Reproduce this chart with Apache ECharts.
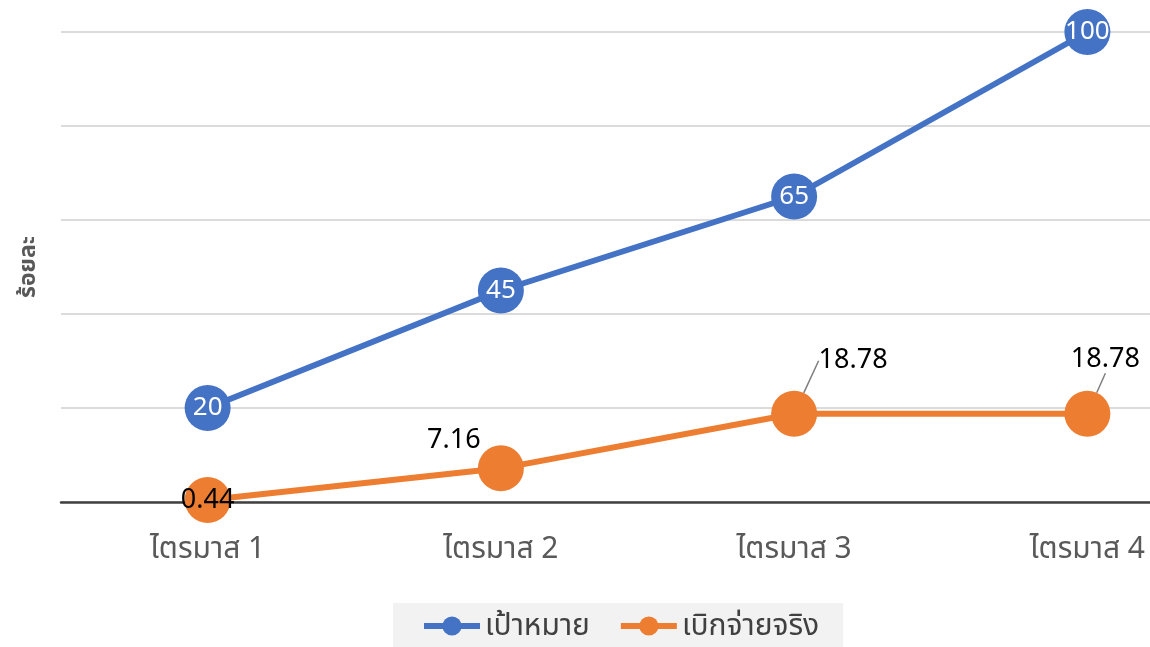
<!DOCTYPE html>
<html>
<head>
<meta charset="utf-8">
<script src="https://cdn.jsdelivr.net/npm/echarts@6/dist/echarts.min.js"></script>
<style>
  html, body { margin: 0; padding: 0; background: #fff; }
  #chart { width: 1150px; height: 647px; }
</style>
</head>
<body>
<div id="chart"></div>
<script>
// --- data ---
const categories = ['ไตรมาส 1', 'ไตรมาส 2', 'ไตรมาส 3', 'ไตรมาส 4']
const targetValues = [20, 45, 65, 100]
const actualValues = [0.44, 7.16, 18.78, 18.78]
const seriesNames = ['เป้าหมาย', 'เบิกจ่ายจริง']

const FONT = '"Noto Sans", "Noto Sans Thai", sans-serif'

const chart = echarts.init(document.getElementById('chart'))

// ระยะเลื่อนป้ายของเส้นสีส้ม
const actualLabelShift = [
  { dx: 0, dy: 0 },
  { dx: -47, dy: -28 },
  { dx: 59, dy: -53 },
  { dx: 18, dy: -54 }
]

const option = {
  animation: false,
  // พื้นที่กราฟกว้างกว่าแคนวาส (ขอบขวาถูกตัด)
  grid: { left: 61, right: -84, top: 32, bottom: 145, outerBoundsMode: 'none' },
  legend: {
    bottom: 0,
    left: 393,
    padding: [8, 24, 6, 28],
    backgroundColor: '#f2f2f2',
    itemWidth: 56,
    itemHeight: 24,
    itemGap: 28,
    lineStyle: { width: 6 },
    textStyle: { fontFamily: FONT, fontSize: 30, color: '#404040' },
    data: seriesNames
  },
  xAxis: {
    type: 'category',
    data: categories,
    boundaryGap: true,
    axisLine: { lineStyle: { color: '#404040', width: 2.5 } },
    axisTick: { show: false },
    axisLabel: { fontFamily: FONT, fontSize: 30, color: '#595959', margin: 32 }
  },
  yAxis: {
    type: 'value',
    min: 0,
    max: 100,
    interval: 20,
    name: 'ร้อยละ',
    nameLocation: 'middle',
    nameGap: 21,
    nameTextStyle: { fontFamily: FONT, fontSize: 23, color: '#595959', fontWeight: 'bold' },
    axisLabel: { show: false },
    axisLine: { show: false },
    axisTick: { show: false },
    splitLine: { lineStyle: { color: '#cfcfcf', width: 1.5 } }
  },
  series: [
    {
      name: seriesNames[0],
      type: 'line',
      data: targetValues,
      symbol: 'circle',
      symbolSize: 46,
      z: 3,
      itemStyle: { color: '#4472c4' },
      lineStyle: { color: '#4472c4', width: 6 },
      label: {
        show: true,
        position: 'inside',
        color: '#fff',
        fontFamily: FONT,
        fontSize: 26
      }
    },
    {
      name: seriesNames[1],
      type: 'line',
      data: actualValues.map((v, i) => ({
        value: v,
        labelLine: { show: i >= 2 }
      })),
      symbol: 'circle',
      symbolSize: 46,
      z: 2,
      itemStyle: { color: '#ed7d31' },
      lineStyle: { color: '#ed7d31', width: 6 },
      label: {
        show: true,
        position: 'inside',
        color: '#000',
        fontFamily: FONT,
        fontSize: 27
      },
      labelLine: {
        show: false,
        lineStyle: { color: '#7f7f7f', width: 1.5 }
      },
      labelLayout: (p) => actualLabelShift[p.dataIndex]
    }
  ]
}

chart.setOption(option)
</script>
</body>
</html>
